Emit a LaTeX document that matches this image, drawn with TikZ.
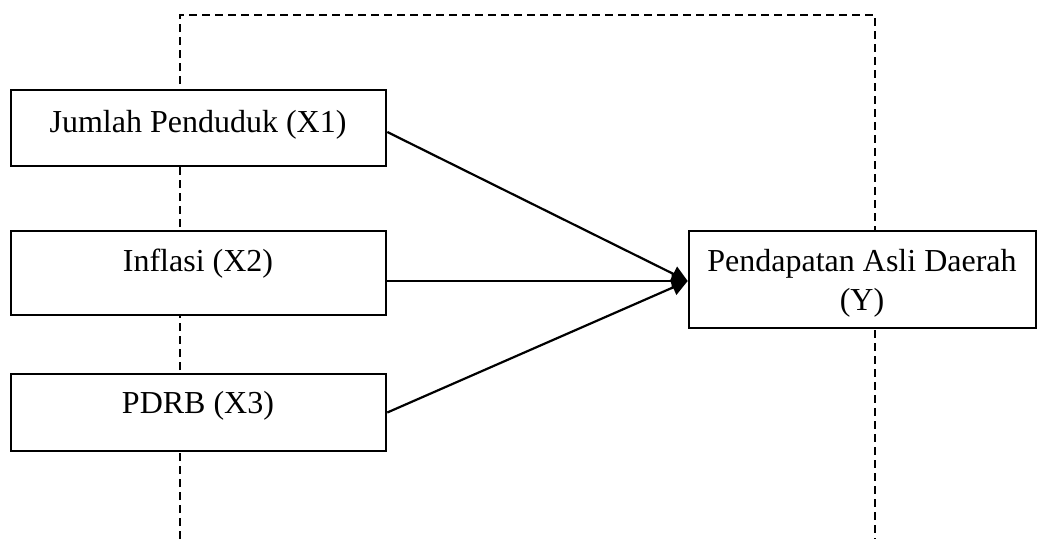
\documentclass[tikz,border=0pt]{standalone}
\usepackage{fontspec}
\setmainfont{Liberation Serif}
\usetikzlibrary{arrows.meta,calc}
\tikzset{
  varbox/.style={draw, line width=2.6pt, fill=white, rectangle, inner sep=0pt},
  lbl/.style={anchor=base, inner sep=0pt, font=\fontsize{32}{38}\selectfont},
  guide/.style={line width=2.2pt, dash pattern=on 8pt off 5pt},
  link/.style={line width=2.2pt, -{Triangle[length=16pt,width=16pt]}}
}
\begin{document}
\begin{tikzpicture}[x=1pt,y=-1pt]
\useasboundingbox (0,0) rectangle (1038,539);
% dashed frame
\coordinate (g1) at (180,539);
\coordinate (g2) at (180,15);
\coordinate (g3) at (875,15);
\coordinate (g4) at (875,539);
\draw[guide] (g1) -- (g2) -- (g3) -- (g4);
% boxes
\node[varbox, minimum width=375pt, minimum height=76pt] (x1) at (198.5,128) {};
\node[varbox, minimum width=375pt, minimum height=84pt] (x2) at (198.5,273) {};
\node[varbox, minimum width=375pt, minimum height=77pt] (x3) at (198.5,412.5) {};
\node[varbox, minimum width=347pt, minimum height=97pt] (y) at (862.5,279.5) {};
% labels
\node[lbl] (t1) at (198,132) {Jumlah Penduduk (X1)};
\node[lbl] (t2) at (198,271) {Inflasi (X2)};
\node[lbl] (t3) at (198,413) {PDRB (X3)};
\node[lbl] (ty1) at (862,271) {Pendapatan Asli Daerah};
\node[lbl] (ty2) at (862,310) {(Y)};
% connectors
\coordinate (tip) at ($(y.west)+(0,1.5)$);
\draw[link] ($(x1.east)+(0,4)$) -- (tip);
\draw[link] ($(x2.east)+(0,8)$) -- (tip);
\draw[link] ($(x3.east)+(0,0)$) -- (tip);
\end{tikzpicture}
\end{document}
